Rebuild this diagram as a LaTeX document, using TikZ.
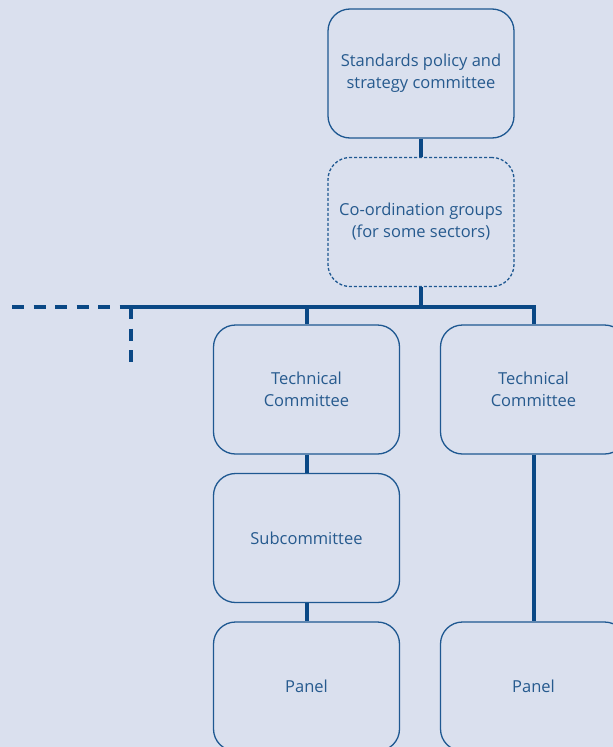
\documentclass[tikz,border=0pt]{standalone}
\usepackage{fontspec}
\setmainfont{Open Sans}
\definecolor{bg}{RGB}{218,224,238}
\definecolor{linec}{RGB}{10,72,133}
\definecolor{boxc}{RGB}{30,88,145}
\definecolor{txt}{RGB}{38,90,142}
\begin{document}
\begin{tikzpicture}[x=1pt,y=-1pt,
  box/.style={draw=boxc, line width=1.3pt, rounded corners=22pt, minimum width=186pt, minimum height=129pt, align=center, text=txt, font=\fontsize{16.5}{22}\selectfont, inner sep=0pt},
  dbox/.style={box, dash pattern=on 3pt off 2pt},
  conn/.style={draw=linec, line width=4pt},
  dconn/.style={conn, dash pattern=on 12pt off 9.5pt}]
\useasboundingbox (0,0) rectangle (613,747);
\fill[bg] (0,0) rectangle (613,747);
\clip (0,0) rectangle (613,747);
\node[box] (spsc) at (421,73.5) {Standards policy and\\strategy committee};
\node[dbox] (cg) at (421,222) {Co-ordination groups\\(for some sectors)};
\node[box] (ltc) at (306.5,389.5) {Technical\\Committee};
\node[box] (rtc) at (533.5,389.5) {Technical\\Committee};
\node[box] (sub) at (306.5,538) {Subcommittee};
\node[box] (lp) at (306.5,686.5) {Panel};
\node[box] (rp) at (533.5,686.5) {Panel};
\coordinate (busL) at (120,307);
\coordinate (dashL) at (12,307);
\coordinate (vdT) at (131,307);
\coordinate (vdB) at (131,369);
\draw[conn] (spsc.south) -- (cg.north);
\draw[conn] (cg.south) -- (cg.south |- busL);
\draw[conn] (busL) -| (rtc.north);
\draw[conn] (ltc.north |- busL) -- (ltc.north);
\draw[dconn] (dashL) -- (busL);
\draw[dconn] (vdT) -- (vdB);
\draw[conn] (ltc.south) -- (sub.north);
\draw[conn] (sub.south) -- (lp.north);
\draw[conn] (rtc.south) -- (rp.north);
\end{tikzpicture}
\end{document}
